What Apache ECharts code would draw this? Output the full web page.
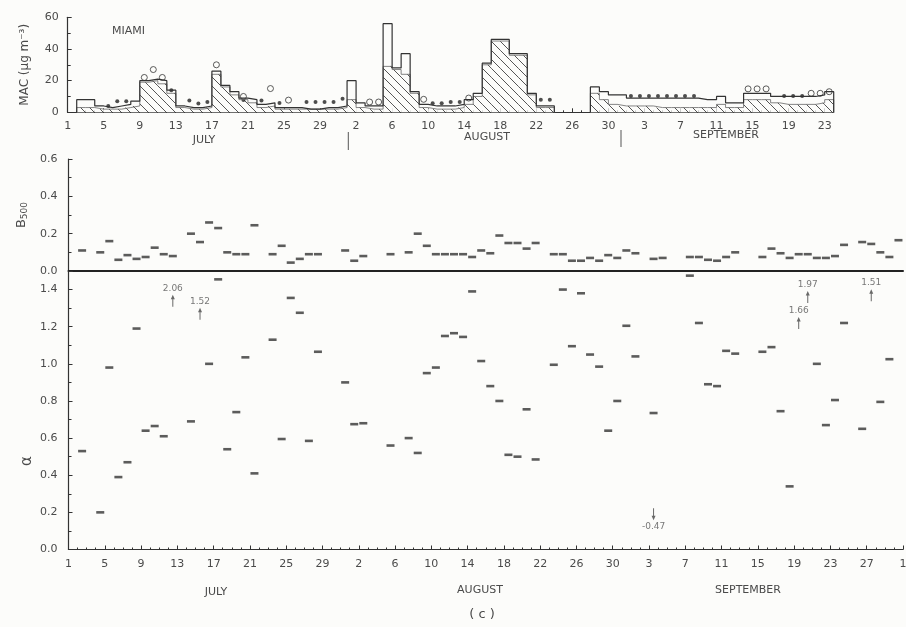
<!DOCTYPE html>
<html><head><meta charset="utf-8">
<script src="https://cdn.jsdelivr.net/npm/echarts/dist/echarts.min.js"></script>
<style>html,body{margin:0;padding:0;background:#fcfcfa;}#c{width:906px;height:627px;}</style>
</head><body><div id="c"></div>
<script>
// ---------- tick labels ----------
const topTickLabels = ['1','5','9','13','17','21','25','29','2','6','10','14','18','22','26','30','3','7','11','15','19','23'];
const bottomTickLabels = ['1','5','9','13','17','21','25','29','2','6','10','14','18','22','26','30','3','7','11','15','19','23','27','1'];
const monthsTop = ['JULY','AUGUST','SEPTEMBER'];
const monthsBottom = ['JULY','AUGUST','SEPTEMBER'];

// ---------- MAC panel (day index 0 = 1 July) ----------
const macOutline = [null,8,8,4,3,4,5,7,20,21,20,14,4,3,3,4,26,17,13,9,8,5,6,3,3,3,2,2,3,3,4,
  20,6,4,4,56,28,37,13,5,4,4,4,5,8,12,31,46,46,37,37,12,4,4,null,null,null,null,
  16,13,11,11,9,9,9,9,9,9,9,9,8,8,10,6,6,12,12,12,10,10,10,10,10,11,13];
const macHatched = [null,3,3,2,2,2,3,4,19,20,18,12,3,2,2,3,24,16,11,8,6,3,4,2,2,2,2,2,2,2,3,
  8,3,2,2,29,27,24,12,3,2,2,2,3,5,10,30,45,45,36,36,11,3,3,null,null,null,null,
  12,8,5,4,4,4,4,3,3,3,3,3,3,3,5,3,3,8,8,8,6,5,5,5,5,6,8];
const macDotDays = [4,5,6,11,13,14,15,19,21,23,26,27,28,29,30,40,41,42,43,52,53,62,63,64,65,66,67,68,69,79,80,81];
const macDotVals = [4,7,7,14,7.5,5.5,6.5,7.8,7.5,5.8,6.5,6.5,6.5,6.5,8.5,5.7,5.7,6.5,6.5,8,8,10.3,10.3,10.3,10.3,10.3,10.3,10.3,10.3,10.3,10.3,10.3];
const macCircleDays = [8,9,10,16,19,22,24,33,34,39,44,75,76,77,82,83,84];
const macCircleVals = [22,27,22,30,10,15,7.7,6.5,6.5,8.2,9,14.8,14.8,14.8,12,12,13];

// ---------- B500 and alpha (day index 0 = 1 July) ----------
const b500 = [null,0.11,null,0.10,0.16,0.06,0.085,0.065,0.075,0.125,0.09,0.08,null,0.20,0.155,0.26,0.23,0.10,0.09,0.09,0.245,null,
  0.09,0.135,0.045,0.065,0.09,0.09,null,null,0.11,0.055,0.08,null,null,0.09,null,0.10,0.20,0.135,0.09,0.09,0.09,0.09,0.075,0.11,
  0.095,0.19,0.15,0.15,0.12,0.15,null,0.09,0.09,0.055,0.055,0.07,0.055,0.085,0.07,0.11,0.095,null,0.065,0.07,null,null,
  0.075,0.075,0.06,0.055,0.075,0.10,null,null,0.075,0.12,0.095,0.07,0.09,0.09,0.07,0.07,0.08,0.14,null,0.155,0.145,0.10,0.075,0.165];
const alpha = [null,0.53,null,0.20,0.98,0.39,0.47,1.19,0.64,0.665,0.61,null,null,0.69,null,1.00,1.455,0.54,0.74,1.035,0.41,null,
  1.13,0.595,1.355,1.275,0.585,1.065,null,null,0.90,0.675,0.68,null,null,0.56,null,0.60,0.52,0.95,0.98,1.15,1.165,1.145,1.39,1.015,
  0.88,0.80,0.51,0.50,0.755,0.485,null,0.995,1.40,1.095,1.38,1.05,0.985,0.64,0.80,1.205,1.04,null,0.735,null,null,null,
  1.475,1.22,0.89,0.88,1.07,1.055,null,null,1.065,1.09,0.745,0.34,null,null,1.00,0.67,0.805,1.22,null,0.65,null,0.795,1.025,null];
const offDays = [11,14,64,80,81,88];
const offLabels = ['2.06','1.52','-0.47','1.66','1.97','1.51'];
const offPos = [1.34,1.27,0.19,1.22,1.36,1.37];

// ---------- helpers ----------
const INK = '#333';
const TXT = '#4a4a4a';
const FONT = 'DejaVu Sans';

function segments(arr){
  const segs=[]; let cur=null;
  arr.forEach((v,d)=>{
    if(v==null){ if(cur){segs.push(cur);cur=null;} return; }
    if(!cur){ cur=[[d,0]]; }
    cur.push([d,v]);
    if(d===arr.length-1 || arr[d+1]==null){ cur.push([d+1,v]); cur.push([d+1,0]); }
  });
  if(cur) segs.push(cur);
  return segs;
}
const pc=document.createElement('canvas'); pc.width=9; pc.height=9;
const g=pc.getContext('2d'); g.fillStyle='#fcfcfa'; g.fillRect(0,0,9,9);
g.strokeStyle='#555'; g.lineWidth=1;
g.beginPath(); g.moveTo(0,0); g.lineTo(9,9); g.moveTo(-1,8); g.lineTo(1,10); g.moveTo(8,-1); g.lineTo(10,1); g.stroke();

const topW=766, topDays=85, botW=834.5, botDays=92;

const series=[];
series.push({type:'bar',xAxisIndex:0,yAxisIndex:0,silent:true,barWidth:topW/topDays,barGap:'-100%',
  data:macHatched.map((v,d)=>v==null?null:[d+0.5,v]).filter(x=>x),
  itemStyle:{color:{image:pc,repeat:'repeat'}}});
segments(macHatched).forEach(s=>series.push({type:'line',step:'end',xAxisIndex:0,yAxisIndex:0,silent:true,symbol:'none',
  data:s,lineStyle:{color:'#666',width:0.8}}));
segments(macOutline).forEach(s=>series.push({type:'line',step:'end',xAxisIndex:0,yAxisIndex:0,silent:true,symbol:'none',
  data:s,lineStyle:{color:INK,width:1.2}}));
series.push({type:'scatter',xAxisIndex:0,yAxisIndex:0,symbol:'circle',symbolSize:4,
  data:macDotDays.map((d,i)=>[d+0.5,macDotVals[i]]),itemStyle:{color:'#222'}});
series.push({type:'scatter',xAxisIndex:0,yAxisIndex:0,symbol:'circle',symbolSize:6,
  data:macCircleDays.map((d,i)=>[d+0.5,macCircleVals[i]]),itemStyle:{color:'#fcfcfa',borderColor:INK,borderWidth:1}});
series.push({type:'scatter',xAxisIndex:1,yAxisIndex:1,symbol:'rect',symbolSize:[8,2.6],
  data:b500.map((v,d)=>v==null?null:[d+0.5,v]).filter(x=>x),itemStyle:{color:'#333'}});
series.push({type:'scatter',xAxisIndex:2,yAxisIndex:2,symbol:'rect',symbolSize:[8,2.6],
  data:alpha.map((v,d)=>v==null?null:[d+0.5,v]).filter(x=>x),itemStyle:{color:'#333'}});
series.push({type:'scatter',xAxisIndex:2,yAxisIndex:2,
  symbol:'path://M4,0 L8,6 L5,6 L5,16 L3,16 L3,6 L0,6 Z',symbolSize:[4,12],
  data:offDays.map((d,i)=>({value:[d+0.5,offPos[i]],symbolRotate:offLabels[i][0]==='-'?180:0,
    label:{show:true,formatter:offLabels[i],position:offLabels[i][0]==='-'?'bottom':'top',distance:2}})),
  itemStyle:{color:'#444'},label:{color:'#555',fontSize:9,fontFamily:FONT}});

const axLine={lineStyle:{color:INK,width:1.2}};
const lab=(extra)=>Object.assign({color:TXT,fontSize:11,fontFamily:FONT},extra||{});
const ctr={align:'center',verticalAlign:'middle',textAlign:'center',textVerticalAlign:'middle'};

const option={
  backgroundColor:'#fcfcfa',
  animation:false,
  grid:[
    {left:67.7,top:17.3,width:topW,height:95,outerBoundsMode:'none'},
    {left:68.5,top:159,width:botW,height:112,outerBoundsMode:'none'},
    {left:68.5,top:271,width:botW,height:278.5,outerBoundsMode:'none'}
  ],
  xAxis:[
    {gridIndex:0,type:'value',min:0,max:topDays,interval:4,axisLine:axLine,splitLine:{show:false},
     axisTick:{inside:true,length:4,lineStyle:{color:INK}},minorTick:{show:true,splitNumber:4,length:2,lineStyle:{color:INK}},
     axisLabel:lab({margin:8,showMaxLabel:false,formatter:v=>topTickLabels[v/4]||''})},
    {gridIndex:1,type:'value',min:0,max:botDays,interval:4,axisLine:{lineStyle:{color:'#222',width:2}},splitLine:{show:false},
     axisTick:{show:false},axisLabel:{show:false}},
    {gridIndex:2,type:'value',min:0,max:botDays,interval:4,axisLine:axLine,splitLine:{show:false},
     axisTick:{inside:true,length:4,lineStyle:{color:INK}},minorTick:{show:true,splitNumber:4,length:2,lineStyle:{color:INK}},
     axisLabel:lab({margin:9,formatter:v=>bottomTickLabels[v/4]||''})}
  ],
  yAxis:[
    {gridIndex:0,type:'value',min:0,max:60,interval:20,axisLine:Object.assign({show:true},axLine),splitLine:{show:false},
     axisTick:{show:true,inside:true,length:4,lineStyle:{color:INK}},minorTick:{show:true,splitNumber:2,length:3,lineStyle:{color:INK}},
     axisLabel:lab({margin:9}),
     name:'MAC (μg m⁻³)',nameLocation:'middle',nameGap:37,nameRotate:90,nameTextStyle:{color:TXT,fontSize:12,fontFamily:FONT}},
    {gridIndex:1,type:'value',min:0,max:0.6,interval:0.2,axisLine:Object.assign({show:true},axLine),splitLine:{show:false},
     axisTick:{show:true,inside:true,length:4,lineStyle:{color:INK}},minorTick:{show:true,splitNumber:2,length:3,lineStyle:{color:INK}},
     axisLabel:lab({margin:11,formatter:v=>v.toFixed(1)}),
     name:'{b|B}{s|500}',nameLocation:'middle',nameGap:34,nameRotate:90,
     nameTextStyle:{rich:{b:{color:TXT,fontSize:13,fontFamily:FONT},s:{color:TXT,fontSize:9,fontFamily:FONT,verticalAlign:'bottom',padding:[6,0,0,0]}}}},
    {gridIndex:2,type:'value',min:0,max:1.5,interval:0.2,axisLine:Object.assign({show:true},axLine),splitLine:{show:false},
     axisTick:{show:true,inside:true,length:4,lineStyle:{color:INK}},minorTick:{show:true,splitNumber:2,length:3,lineStyle:{color:INK}},
     axisLabel:lab({margin:11,showMaxLabel:false,formatter:v=>v.toFixed(1)})}
  ],
  graphic:[
    {type:'text',x:112,y:26,style:{text:'MIAMI',fill:TXT,font:'11px '+FONT}},
    {type:'text',x:27,y:461,rotation:Math.PI/2,style:Object.assign({text:'α',fill:TXT,font:'15px '+FONT},ctr)},
    {type:'text',x:204,y:140,style:Object.assign({text:monthsTop[0],fill:TXT,font:'11px '+FONT},ctr)},
    {type:'text',x:487,y:137,style:Object.assign({text:monthsTop[1],fill:TXT,font:'11px '+FONT},ctr)},
    {type:'text',x:726,y:135,style:Object.assign({text:monthsTop[2],fill:TXT,font:'11px '+FONT},ctr)},
    {type:'line',shape:{x1:348.3,y1:132,x2:348.3,y2:150},style:{stroke:'#555',lineWidth:1}},
    {type:'line',shape:{x1:621,y1:130,x2:621,y2:147},style:{stroke:'#555',lineWidth:1}},
    {type:'text',x:216,y:592,style:Object.assign({text:monthsBottom[0],fill:TXT,font:'11px '+FONT},ctr)},
    {type:'text',x:480,y:590,style:Object.assign({text:monthsBottom[1],fill:TXT,font:'11px '+FONT},ctr)},
    {type:'text',x:748,y:590,style:Object.assign({text:monthsBottom[2],fill:TXT,font:'11px '+FONT},ctr)},
    {type:'text',x:482,y:615,style:Object.assign({text:'( c )',fill:TXT,font:'13px '+FONT},ctr)}
  ],
  series:series
};
const chart=echarts.init(document.getElementById('c'),null,{renderer:'canvas'});
chart.setOption(option);
</script></body></html>
